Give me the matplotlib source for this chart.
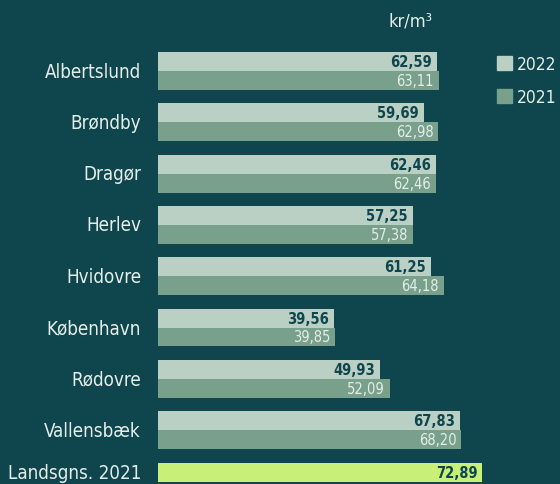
import matplotlib
matplotlib.use("Agg")
import matplotlib.pyplot as plt
import numpy as np
from matplotlib.patches import Patch

# data
kommuner = ["Albertslund", "Brøndby", "Dragør", "Herlev", "Hvidovre",
            "København", "Rødovre", "Vallensbæk"]
pris_2022 = [62.59, 59.69, 62.46, 57.25, 61.25, 39.56, 49.93, 67.83]
pris_2021 = [63.11, 62.98, 62.46, 57.38, 64.18, 39.85, 52.09, 68.20]
lands_label = "Landsgns. 2021"
lands_value = 72.89

BG = "#0f454c"
C22 = "#bbd0c5"
C21 = "#78a08b"
CLANDS = "#c8ef78"
LIGHT = "#e4eeea"

plt.rcParams['font.family'] = ['DejaVu Sans']
plt.rcParams['font.stretch'] = 'condensed'

fig = plt.figure(figsize=(5.6, 4.85), dpi=100, facecolor=BG)
ax = fig.add_axes([0, 0, 1, 1])
ax.set_facecolor(BG)
ax.axis('off')

x0 = 158     # pixel where bars start
px = 4.45    # pixels per kr
ax.set_xlim(-x0 / px, (560 - x0) / px)
ax.set_ylim((485 - 72) / 51.3, -72 / 51.3)

pos = np.arange(len(kommuner))
h = 0.37
ax.barh(pos - h / 2, pris_2022, height=h, color=C22, label="2022")
ax.barh(pos + h / 2, pris_2021, height=h, color=C21, label="2021")

lands_pos = 7.83
ax.barh(lands_pos, lands_value, height=h, color=CLANDS)

fmt = lambda v: f"{v:.2f}".replace(".", ",")
off = 1.1
for p, a, b, name in zip(pos, pris_2022, pris_2021, kommuner):
    ax.text(a - off, p - h / 2, fmt(a), ha='right', va='center', fontsize=10.5,
            fontweight='bold', color=BG)
    ax.text(b - off, p + h / 2, fmt(b), ha='right', va='center', fontsize=10.5,
            color=LIGHT)
    ax.text(-17 / px, p, name, ha='right', va='center', fontsize=13.5, color=LIGHT)

ax.text(lands_value - off, lands_pos, fmt(lands_value), ha='right', va='center',
        fontsize=10.5, fontweight='bold', color=BG)
ax.text(-17 / px, lands_pos, lands_label, ha='right', va='center', fontsize=13.5,
        color=LIGHT)

fig.text(433 / 560, 1 - 21 / 485, "kr/m³", ha='right', va='center', fontsize=13,
         color=LIGHT)

handles = [Patch(color=C22, label="2022"), Patch(color=C21, label="2021")]
leg = fig.legend(handles=handles, loc='upper left',
                 bbox_to_anchor=(497 / 560, 1 - 56 / 485), frameon=False,
                 handlelength=0.85, handleheight=0.85, handletextpad=0.3,
                 labelspacing=0.85, fontsize=12.5, labelcolor=LIGHT,
                 borderpad=0, borderaxespad=0)

fig.savefig("out.png", dpi=100, facecolor=BG)
